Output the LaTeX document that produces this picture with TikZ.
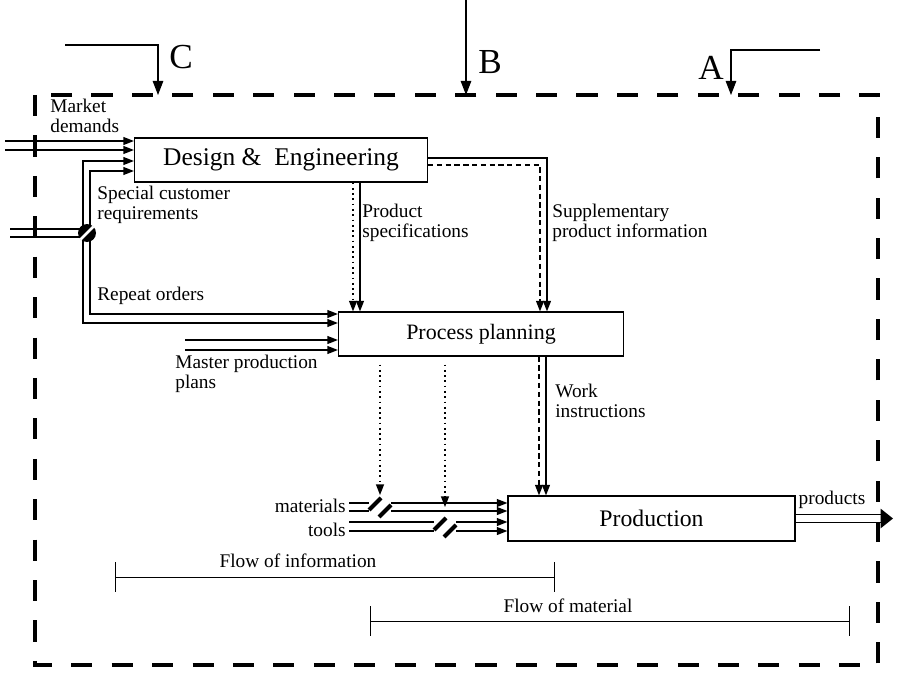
\documentclass[tikz,border=0pt]{standalone}
\usepackage{fontspec}
\setmainfont{Liberation Serif}
\usetikzlibrary{positioning, arrows.meta, calc}

% switch sign on a double material line, #1 = its coordinate
\newcommand{\valve}[1]{%
    \fill[white] ($(#1)+(-11,-10)$) rectangle ($(#1)+(11,10)$);
    \draw[line width=2.4pt] ($(#1)+(-11,3)$) -- ($(#1)+(1,-9)$);
    \draw[line width=2.4pt] ($(#1)+(-1,10)$) -- ($(#1)+(11,-2)$);
}

\begin{document}
\begin{tikzpicture}[
    x=0.2mm, y=-0.2mm,
    >={Triangle[length=6pt,width=4.5pt]},
    % process boxes
    proc/.style={draw, line width=0.7pt, inner sep=0pt, font=\fontsize{13.5}{16}\selectfont},
    % small labels
    lbl/.style={inner sep=0pt, align=left, font=\fontsize{11}{11.5}\selectfont},
    % A, B, C letters
    big/.style={inner sep=0pt, font=\fontsize{20}{24}\selectfont},
    % round switch on the order line
    orderswitch/.style={circle, fill, minimum size=3.6mm, inner sep=0pt},
    % plain line, no tip
    wire/.style={line width=0.8pt},
    % arrows
    sig/.style={->, line width=0.8pt},
    dsig/.style={sig, dash pattern=on 3pt off 2pt},
    dotsig/.style={sig, dash pattern=on 1pt off 2pt},
    ctl/.style={-{Triangle[length=8pt,width=6pt]}, line width=0.6pt},
    % system border
    boundary/.style={line width=2.3pt, dash pattern=on 12pt off 11pt},
    % flow scales
    scale bar/.style={{Bar[width=17pt]}-{Bar[width=17pt]}, line width=0.5pt},
]
\useasboundingbox (0,0) rectangle (900,675);

% --- system border ---
\draw[boundary] (35,95) rectangle (878,665);

% --- A, B, C ---
\coordinate (cfrom) at (65,45);
\coordinate (cto) at (158,95);
\draw[ctl] (cfrom) -| (cto);
\node[big] (clbl) at (181,57) {C};
\coordinate (bfrom) at (466,0);
\coordinate (bto) at (466,95);
\draw[ctl] (bfrom) -- (bto);
\node[big] (blbl) at (490,62) {B};
\coordinate (afrom) at (820,50);
\coordinate (ato) at (731,95);
\draw[ctl] (afrom) -| (ato);
\node[big] (albl) at (711,68) {A};

% --- process boxes ---
\node[proc, minimum width=58.6mm, minimum height=8.8mm, font=\fontsize{14.5}{17}\selectfont] (de) at (281,160) {Design \& \ Engineering};
\node[proc, minimum width=57mm, minimum height=8.8mm, font=\fontsize{12.5}{15}\selectfont] (pp) at (481,334) {Process planning\hspace{8mm}};
\node[proc, minimum width=57.4mm, minimum height=9mm] (pr) at (651.5,518.5) {Production};

% --- market demands ---
\coordinate (mdA) at (5,141);
\coordinate (mdB) at (5,150);
\draw[sig] (mdA) -- (mdA -| de.west);
\draw[sig] (mdB) -- (mdB -| de.west);
\node[lbl, anchor=north west] (mdlbl) at (50,99) {Market\\demands};

% --- orders: special requirements and repeat orders ---
\coordinate (ordA) at (10,229);
\coordinate (ordB) at (10,237);
\coordinate (scA) at (83,233);
\coordinate (scB) at (90,233);
\draw[wire] (ordA) -- (ordA -| scB);
\draw[wire] (ordB) -- (ordB -| scB);
\draw[sig] (scA) |- ($(de.west)+(0,1)$);
\draw[sig] (scB) |- ($(de.west)+(0,11)$);
\draw[sig] (scA) |- ($(pp.west)+(0,-11)$);
\draw[sig] (scB) |- ($(pp.west)+(0,-20)$);
\node[orderswitch] (ordsw) at (87,233) {};
\draw[white, line width=1.6pt] (ordsw.south west) -- (ordsw.north east);
\node[lbl, anchor=north west] (sclbl) at (97,186) {Special customer\\requirements};
\node[lbl, anchor=south west] (rolbl) at (97,305) {Repeat orders};

% --- master production plans ---
\coordinate (mpA) at (185,340);
\coordinate (mpB) at (185,350);
\draw[sig] (mpA) -- (mpA -| pp.west);
\draw[sig] (mpB) -- (mpB -| pp.west);
\node[lbl, anchor=north west] (mplbl) at (175,355) {Master production\\plans};

% --- product specifications ---
\coordinate (psA) at ($(de.south)+(72,0)$);
\coordinate (psB) at ($(de.south)+(79,0)$);
\draw[dotsig] (psA) -- (psA |- pp.north);
\draw[sig] (psB) -- (psB |- pp.north);
\node[lbl, anchor=north west] (pslbl) at (362,204) {Product\\specifications};

% --- supplementary product information ---
\coordinate (spA) at ($(pp.north)+(66,0)$);
\coordinate (spB) at ($(pp.north)+(59,0)$);
\draw[sig] ($(de.east)+(0,-2)$) -| (spA);
\draw[dsig] ($(de.east)+(0,5)$) -| (spB);
\node[lbl, anchor=north west] (splbl) at (552,204) {Supplementary\\product information};

% --- work instructions ---
\coordinate (wiA) at ($(pp.south)+(58,0)$);
\coordinate (wiB) at ($(pp.south)+(65,0)$);
\draw[dsig] (wiA) -- (wiA |- pr.north);
\draw[sig] (wiB) -- (wiB |- pr.north);
\node[lbl, anchor=north west] (wilbl) at (555,384) {Work\\instructions};

% --- materials and tools ---
\coordinate (msw) at (380,507);
\coordinate (tsw) at (445,527);
\coordinate (maA) at (349,503);
\coordinate (maB) at (349,511);
\coordinate (toA) at (349,522);
\coordinate (toB) at (349,531);
\draw[sig] (maA) -- (maA -| pr.west);
\draw[sig] (maB) -- (maB -| pr.west);
\draw[sig] (toA) -- (toA -| pr.west);
\draw[sig] (toB) -- (toB -| pr.west);
\valve{msw}
\valve{tsw}
\node[lbl, anchor=east] (malbl) at (346,506) {materials};
\node[lbl, anchor=east] (tolbl) at (346,530) {tools};

% --- release of materials and tools ---
\coordinate (dmA) at ($(pp.south)+(-101,8)$);
\coordinate (dtA) at ($(pp.south)+(-36,8)$);
\coordinate (mswtop) at ($(msw)+(0,-12)$);
\coordinate (tswtop) at ($(tsw)+(0,-20)$);
\draw[dotsig] (dmA) -- (mswtop);
\draw[dotsig] (dtA) -- (tswtop);

% --- products ---
\coordinate (prodend) at (893,518.5);
\draw[double, double distance=3.5pt, line width=0.6pt, -{Triangle[length=7pt,width=11pt]}] (pr.east) -- (prodend);
\node[lbl] (prlbl) at (832,500) {products};

% --- flow scales ---
\coordinate (fiL) at (115,577);
\coordinate (fiR) at (555,577);
\draw[scale bar] (fiL) -- (fiR);
\node[lbl] (filbl) at (298,561) {Flow of information};
\coordinate (fmL) at (370,621);
\coordinate (fmR) at (850,621);
\draw[scale bar] (fmL) -- (fmR);
\node[lbl] (fmlbl) at (568,606) {Flow of material};

\end{tikzpicture}
\end{document}
